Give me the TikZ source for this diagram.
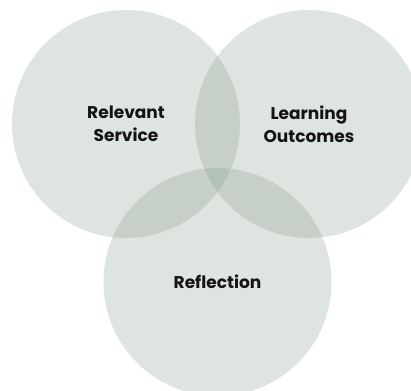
\documentclass[tikz,border=0pt]{standalone}
\usepackage{fontspec}
\setmainfont{Poppins}
\definecolor{venn}{RGB}{133,155,140}
\definecolor{txt}{RGB}{20,20,20}
\tikzset{
  venncircle/.style={circle, fill=venn, fill opacity=0.27, text opacity=1, draw=none,
    minimum size=228pt, inner sep=0pt, align=center, text=txt,
    font=\bfseries\fontsize{17}{23}\selectfont}
}
\begin{document}
\begin{tikzpicture}[x=1pt,y=-1pt]
  \useasboundingbox (0,0) rectangle (411,390);
  \begin{scope}
  \clip (0,0) rectangle (411,390);
  \node[venncircle] (service) at (126,124) {Relevant\\Service};
  \node[venncircle] (outcomes) at (309,124) {Learning\\Outcomes};
  \node[venncircle] (reflection) at (217.5,282) {Reflection};
  \end{scope}
\end{tikzpicture}
\end{document}
